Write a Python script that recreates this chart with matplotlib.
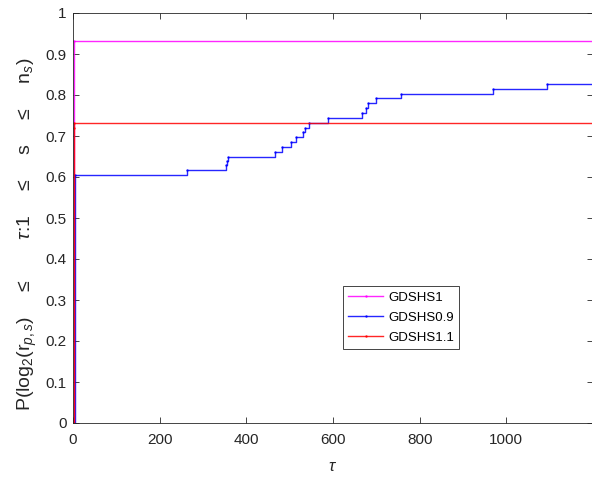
import matplotlib
matplotlib.use("Agg")
import matplotlib.pyplot as plt

# performance profiles (tau, fraction of problems)
tau_s1 = [0, 3, 1200]
p_s1 = [0, 0.931, 0.931]

tau_s09 = [0, 4, 262, 353, 355, 357, 466, 482, 502, 514, 530, 536, 544,
           589, 666, 676, 680, 699, 757, 969, 1094, 1200]
p_s09 = [0, 0.605, 0.617, 0.630, 0.640, 0.650, 0.662, 0.674, 0.686, 0.698,
         0.709, 0.720, 0.7325, 0.745, 0.757, 0.769, 0.780, 0.792, 0.802,
         0.815, 0.827, 0.827]

tau_s11 = [0, 2, 3, 1200]
p_s11 = [0, 0.720, 0.7325, 0.7325]

labels = ["GDSHS1", "GDSHS0.9", "GDSHS1.1"]
xticks = [0, 200, 400, 600, 800, 1000]
yticks = [0, 0.1, 0.2, 0.3, 0.4, 0.5, 0.6, 0.7, 0.8, 0.9, 1]

plt.rcParams["font.family"] = ["Liberation Sans", "DejaVu Sans"]
plt.rcParams["mathtext.fontset"] = "custom"
plt.rcParams["mathtext.rm"] = "Liberation Sans"
plt.rcParams["mathtext.it"] = "Liberation Sans:italic"

fig = plt.figure(figsize=(5.92, 4.79), dpi=100)
ax = fig.add_axes([73 / 592, 1 - 423 / 479, 520 / 592, 410 / 479])

series = [(tau_s1, p_s1, "#ff00ff"), (tau_s09, p_s09, "#0000ff"), (tau_s11, p_s11, "#ff0000")]
for (t, p, c), lab in zip(series, labels):
    ax.plot(t, p, drawstyle="steps-post", color=c, lw=1.0, marker=".",
            markersize=1.5, alpha=0.85, label=lab)

ax.set_xlim(0, 1200)
ax.set_ylim(0, 1)
ax.set_xticks(xticks)
ax.set_yticks(yticks)
ax.set_yticklabels([f"{v:g}" for v in yticks])
ax.tick_params(direction="in", length=4, width=0.6, top=True, right=True,
               labelsize=11, colors="#262626", labelcolor="#262626")
ax.tick_params(axis="x", pad=7.5)
ax.tick_params(axis="y", pad=4.5)
for s in ax.spines.values():
    s.set_color("#262626")
    s.set_linewidth(0.6)

ax.set_xlabel(r"$\tau$", fontsize=12, color="#262626", labelpad=8)
gap = r"$\quad\;\;$"
ax.set_ylabel(r"P(log$_2$(r$_{p,s}$)" + gap + "\u2264" + gap + r"$\quad\tau$:1" + gap
              + "\u2264" + gap + "s" + gap + "\u2264" + gap + r"n$_s$)",
              fontsize=14, color="#262626")
ax.yaxis.set_label_coords(-0.065, 0.46)

leg = ax.legend(loc="upper left", bbox_to_anchor=(0.519, 0.334), fontsize=9.5,
                fancybox=False, framealpha=1, edgecolor="#262626",
                handlelength=2.65, handletextpad=0.38, labelspacing=0.6,
                borderpad=0.4, borderaxespad=0)
leg.get_frame().set_linewidth(0.6)

fig.savefig("out.png", dpi=100)
